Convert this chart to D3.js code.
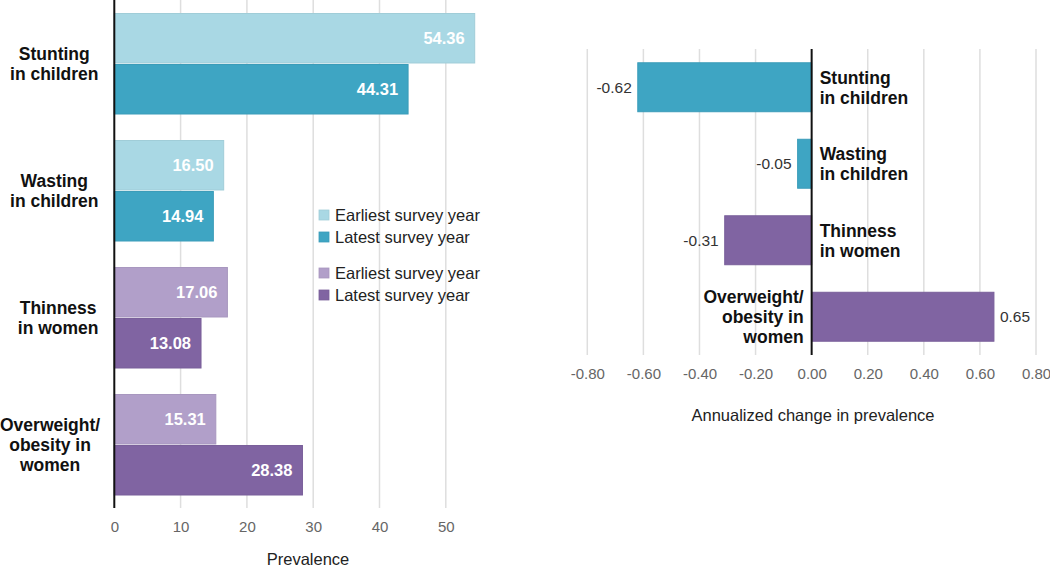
<!DOCTYPE html>
<html>
<head>
<meta charset="utf-8">
<script src="https://cdn.jsdelivr.net/npm/d3@7"></script>
<style>
  html, body { margin: 0; padding: 0; background: #fff; }
  svg { display: block; font-family: "Liberation Sans", Arial, sans-serif; }
</style>
</head>
<body>
<svg id="chart" width="1050" height="567"></svg>
<script>
// ---- data ----
const categories = ["Stunting in children", "Wasting in children", "Thinness in women", "Overweight/ obesity in women"];
const categoryLinesLeft = [["Stunting", "in children"], ["Wasting", "in children"], ["Thinness", "in women"], ["Overweight/", "obesity in", "women"]];
const categoryLinesRight = [["Stunting", "in children"], ["Wasting", "in children"], ["Thinness", "in women"], ["Overweight/", "obesity in", "women"]];
const earliestValues = [54.36, 16.50, 17.06, 15.31];
const latestValues = [44.31, 14.94, 13.08, 28.38];
const annualizedChange = [-0.62, -0.05, -0.31, 0.65];
const groupOf = ["children", "children", "women", "women"];
const leftTicks = [0, 10, 20, 30, 40, 50];
const rightTicks = [-0.8, -0.6, -0.4, -0.2, 0, 0.2, 0.4, 0.6, 0.8];
const legendItems = [
  { label: "Earliest survey year", group: "children", series: "earliest" },
  { label: "Latest survey year", group: "children", series: "latest" },
  { label: "Earliest survey year", group: "women", series: "earliest" },
  { label: "Latest survey year", group: "women", series: "latest" }
];
const colors = {
  children: { earliest: "#a9d8e4", latest: "#3ea5c3" },
  women: { earliest: "#b19fc9", latest: "#8064a2" }
};

const loc = d3.formatLocale({ decimal: ".", thousands: ",", grouping: [3], currency: ["", ""], minus: "-" });
const f2 = loc.format(".2f");

const svg = d3.select("#chart");

// ---------------- LEFT CHART ----------------
const xL = d3.scaleLinear().domain([0, 50]).range([114.3, 445.8]);
const yL = d3.scaleBand().domain(categories).range([0, 508]).padding(0);
const ySub = d3.scaleBand().domain(["earliest", "latest"]).range([13.5, 114]).paddingInner(0.03);

const gL = svg.append("g");

gL.selectAll("line.grid").data(leftTicks.filter(d => d !== 0)).join("line")
  .attr("x1", d => xL(d)).attr("x2", d => xL(d))
  .attr("y1", 0).attr("y2", 508)
  .attr("stroke", "#dedede").attr("stroke-width", 1.5);

const rowsL = categories.map((c, i) => ({ c, i, earliest: earliestValues[i], latest: latestValues[i], g: groupOf[i] }));
rowsL.forEach(r => {
  ["earliest", "latest"].forEach(s => {
    const v = r[s];
    const y0 = yL(r.c) + ySub(s);
    gL.append("rect")
      .attr("x", xL(0)).attr("y", y0)
      .attr("width", xL(v) - xL(0)).attr("height", ySub.bandwidth())
      .attr("fill", colors[r.g][s])
      .attr("stroke", d3.color(colors[r.g][s]).darker(0.15))
      .attr("stroke-width", 1);
    gL.append("text")
      .attr("x", xL(v) - 10).attr("y", y0 + ySub.bandwidth() / 2)
      .attr("dy", "0.36em")
      .attr("text-anchor", "end")
      .attr("fill", "#fff").attr("font-weight", "bold").attr("font-size", 16.5)
      .text(f2(v));
  });
});

gL.append("line").attr("x1", xL(0)).attr("x2", xL(0)).attr("y1", 0).attr("y2", 508)
  .attr("stroke", "#111").attr("stroke-width", 2);

const axL = gL.append("g").attr("transform", "translate(0,518)")
  .call(d3.axisBottom(xL).tickValues(leftTicks).tickSize(0).tickFormat(d3.format("d")));
axL.select(".domain").remove();
axL.selectAll("text").attr("font-size", 15).attr("fill", "#666").attr("font-family", "Liberation Sans, Arial, sans-serif");

gL.append("text").attr("x", 308).attr("y", 565).attr("text-anchor", "middle")
  .attr("font-size", 16.5).attr("fill", "#222").text("Prevalence");

rowsL.forEach(r => {
  const lines = categoryLinesLeft[r.i];
  const cy = yL(r.c) + (ySub("earliest") + ySub("latest") + ySub.bandwidth()) / 2;
  const lh = 20;
  const t = gL.append("g");
  const texts = lines.map((ln, k) => t.append("text")
    .attr("y", cy + (k - (lines.length - 1) / 2) * lh)
    .attr("dy", "0.36em")
    .attr("text-anchor", "middle")
    .attr("font-weight", "bold").attr("font-size", 17.5).attr("fill", "#111")
    .text(ln));
  const maxW = d3.max(texts, tx => tx.node().getComputedTextLength());
  const cx = Math.max(98.5 - maxW / 2, maxW / 2);
  texts.forEach(tx => tx.attr("x", cx));
});

const legendY = [215, 237, 273, 295];
legendItems.forEach((it, k) => {
  gL.append("rect").attr("x", 319).attr("y", legendY[k] - 5).attr("width", 10).attr("height", 10)
    .attr("fill", colors[it.group][it.series])
    .attr("stroke", d3.color(colors[it.group][it.series]).darker(0.15)).attr("stroke-width", 0.8);
  gL.append("text").attr("x", 335).attr("y", legendY[k]).attr("dy", "0.36em")
    .attr("font-size", 16.5).attr("fill", "#222").text(it.label);
});

// ---------------- RIGHT CHART ----------------
const xR = d3.scaleLinear().domain([-0.8, 0.8]).range([587.3, 1036]);
const yR = d3.scaleBand().domain(categories).range([49, 355]).paddingInner(0.36).paddingOuter(0.18);
const gR = svg.append("g");

gR.selectAll("line.grid").data(rightTicks.filter(d => d !== 0)).join("line")
  .attr("x1", d => xR(d)).attr("x2", d => xR(d))
  .attr("y1", 49).attr("y2", 355)
  .attr("stroke", "#dedede").attr("stroke-width", 1.5);

categories.forEach((c, i) => {
  const v = annualizedChange[i];
  const col = colors[groupOf[i]].latest;
  const x0 = Math.min(xR(0), xR(v));
  const w = Math.abs(xR(v) - xR(0));
  gR.append("rect").attr("x", x0).attr("y", yR(c)).attr("width", w).attr("height", yR.bandwidth())
    .attr("fill", col).attr("stroke", d3.color(col).darker(0.15)).attr("stroke-width", 1);
  const cy = yR(c) + yR.bandwidth() / 2;
  gR.append("text")
    .attr("x", v < 0 ? xR(v) - 6 : xR(v) + 6).attr("y", cy).attr("dy", "0.36em")
    .attr("text-anchor", v < 0 ? "end" : "start")
    .attr("font-size", 15.5).attr("fill", "#333")
    .text(f2(v));
  const lines = categoryLinesRight[i];
  lines.forEach((ln, k) => {
    gR.append("text")
      .attr("x", v < 0 ? xR(0) + 8 : xR(0) - 8)
      .attr("y", cy + (k - (lines.length - 1) / 2) * 20).attr("dy", "0.36em")
      .attr("text-anchor", v < 0 ? "start" : "end")
      .attr("font-weight", "bold").attr("font-size", 17.5).attr("fill", "#111")
      .text(ln);
  });
});

gR.append("line").attr("x1", xR(0)).attr("x2", xR(0)).attr("y1", 49).attr("y2", 355)
  .attr("stroke", "#111").attr("stroke-width", 2);

const axR = gR.append("g").attr("transform", "translate(0,365)")
  .call(d3.axisBottom(xR).tickValues(rightTicks).tickSize(0).tickFormat(f2));
axR.select(".domain").remove();
axR.selectAll("text").attr("font-size", 15).attr("fill", "#666").attr("font-family", "Liberation Sans, Arial, sans-serif");

gR.append("text").attr("x", 813).attr("y", 421).attr("text-anchor", "middle")
  .attr("font-size", 16.5).attr("fill", "#222").text("Annualized change in prevalence");
</script>
</body>
</html>
